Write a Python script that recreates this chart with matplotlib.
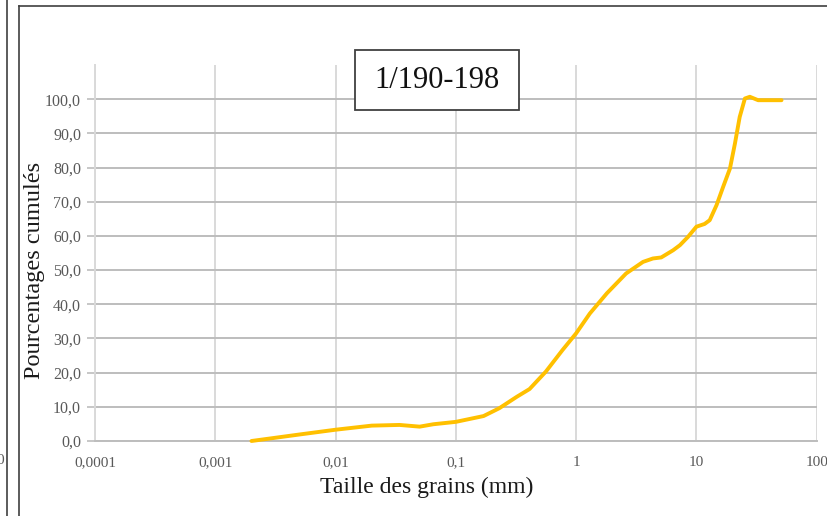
import matplotlib
matplotlib.use("Agg")
import matplotlib.pyplot as plt
from matplotlib.patches import Rectangle
from matplotlib.lines import Line2D
from matplotlib.ticker import NullLocator

# ---- data ----
grain_mm = [0.002, 0.005, 0.01, 0.02, 0.034, 0.05, 0.065, 0.1, 0.17, 0.23,
            0.32, 0.41, 0.56, 0.77, 1.0, 1.3, 1.8, 2.6, 3.6, 4.35, 5.1,
            6.4, 7.3, 8.5, 10.0, 11.7, 12.9, 14.7, 16.7, 19.0, 20.9, 22.9,
            25.3, 27.8, 32.6, 51.0]
cumul_pct = [0.0, 1.9, 3.3, 4.5, 4.7, 4.2, 4.9, 5.6, 7.3, 9.6,
             12.9, 15.2, 20.3, 26.6, 31.5, 37.3, 43.2, 49.0, 52.4, 53.4, 53.7,
             55.8, 57.3, 59.7, 62.7, 63.5, 64.6, 69.0, 74.4, 79.7, 87.0, 94.8,
             100.2, 100.7, 99.7, 99.7]

x_ticks = [0.0001, 0.001, 0.01, 0.1, 1, 10, 100]
x_tick_labels = ["0,0001", "0,001", "0,01", "0,1", "1", "10", "100"]
y_ticks = [0, 10, 20, 30, 40, 50, 60, 70, 80, 90, 100]
y_tick_labels = ["0,0", "10,0", "20,0", "30,0", "40,0", "50,0",
                 "60,0", "70,0", "80,0", "90,0", "100,0"]
title = "1/190-198"
x_label = "Taille des grains (mm)"
y_label = "Pourcentages cumulés"

plt.rcParams['font.family'] = ['Liberation Serif', 'DejaVu Serif']

W, H = 827, 516
fig = plt.figure(figsize=(W / 100, H / 100), dpi=100)
fig.patch.set_facecolor('white')

ax = fig.add_axes([95 / W, 1 - 441 / H, (816.7 - 95) / W, (441 - 65) / H])
ax.set_xscale('log')
ax.set_xlim(1e-4, 100)
ax.set_ylim(0, 110)
ax.set_xticks(x_ticks, x_tick_labels)
ax.set_yticks(y_ticks, y_tick_labels)
ax.xaxis.set_minor_locator(NullLocator())

ax.grid(axis='x', color='#D9D9D9', lw=1.4)
ax.grid(axis='y', color='#BDBDBD', lw=1.4)
ax.set_axisbelow(True)
for s in ('top', 'right'):
    ax.spines[s].set_visible(False)
ax.spines['left'].set_color('#D9D9D9')
ax.spines['left'].set_linewidth(1.4)
ax.spines['bottom'].set_color('#BDBDBD')
ax.spines['bottom'].set_linewidth(1.4)

ax.tick_params(axis='y', length=6, width=1.2, color='#BDBDBD', labelsize=11.5,
               labelcolor='#595959', pad=4)
ax.tick_params(axis='x', length=0, labelsize=11, labelcolor='#595959', pad=11)

ax.plot(grain_mm, cumul_pct, color='#FFC000', lw=2.8,
        solid_joinstyle='round', solid_capstyle='round', zorder=3, clip_on=False)

fig.text(426.5 / W, 1 - 487 / H, x_label, ha='center', va='center',
         fontsize=17, color='#1a1a1a')
fig.text(35 / W, 1 - 270 / H, y_label, ha='center', va='center',
         rotation=90, fontsize=17.5, color='#1a1a1a')

# title box
fig.add_artist(Rectangle((355 / W, 1 - 110 / H), 164 / W, 60 / H,
                         transform=fig.transFigure, facecolor='white',
                         edgecolor='#404040', lw=1.3, zorder=5))
fig.text(437 / W, 1 - 80 / H, title, ha='center', va='center',
         fontsize=22, color='#111111', zorder=6)

# frame lines of the surrounding document
fig.add_artist(Line2D([7 / W, 7 / W], [0, 1], transform=fig.transFigure,
                      color='#404040', lw=1.2))
fig.add_artist(Line2D([19 / W, 19 / W], [0, 1 - 6 / H], transform=fig.transFigure,
                      color='#404040', lw=1.2))
fig.add_artist(Line2D([19 / W, 1], [1 - 6 / H, 1 - 6 / H], transform=fig.transFigure,
                      color='#404040', lw=1.2))
fig.text(4 / W, 1 - 460 / H, "0", ha='right', va='center', fontsize=11,
         color='#595959')

fig.savefig('out.png', dpi=100)
